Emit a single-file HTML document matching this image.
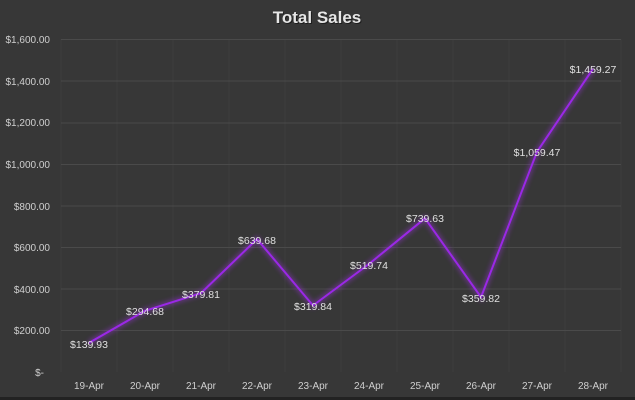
<!DOCTYPE html>
<html><head><meta charset="utf-8"><style>
html,body{margin:0;padding:0;background:#373737;}
svg{display:block;font-family:"Liberation Sans",sans-serif;}
</style></head><body>
<svg width="635" height="400" viewBox="0 0 635 400" xmlns="http://www.w3.org/2000/svg">
<rect width="635" height="400" fill="#373737"/>
<defs><filter id="g" x="-20%" y="-20%" width="140%" height="140%"><feGaussianBlur stdDeviation="2.5"/></filter></defs>
<text x="317" y="23" text-anchor="middle" font-size="17" font-weight="bold" fill="#111" opacity="0.7" transform="translate(1,1)">Total Sales</text>
<text x="317" y="23" text-anchor="middle" font-size="17" font-weight="bold" fill="#e6e6e6">Total Sales</text>
<g stroke="#3e3e3e" stroke-width="1">
<line x1="61" y1="39.5" x2="61" y2="372"/><line x1="117" y1="39.5" x2="117" y2="372"/><line x1="173" y1="39.5" x2="173" y2="372"/><line x1="229" y1="39.5" x2="229" y2="372"/><line x1="285" y1="39.5" x2="285" y2="372"/><line x1="341" y1="39.5" x2="341" y2="372"/><line x1="397" y1="39.5" x2="397" y2="372"/><line x1="453" y1="39.5" x2="453" y2="372"/><line x1="509" y1="39.5" x2="509" y2="372"/><line x1="565" y1="39.5" x2="565" y2="372"/><line x1="621" y1="39.5" x2="621" y2="372"/>
</g>
<g stroke="#4a4a4a" stroke-width="1">
<line x1="61" y1="39.5" x2="621" y2="39.5"/><line x1="61" y1="81" x2="621" y2="81"/><line x1="61" y1="123" x2="621" y2="123"/><line x1="61" y1="164.5" x2="621" y2="164.5"/><line x1="61" y1="206" x2="621" y2="206"/><line x1="61" y1="247.5" x2="621" y2="247.5"/><line x1="61" y1="289" x2="621" y2="289"/><line x1="61" y1="330.5" x2="621" y2="330.5"/>
</g>
<g font-size="10" fill="#cfcfcf" text-anchor="end">
<text x="50" y="43">$1,600.00</text><text x="50" y="85">$1,400.00</text><text x="50" y="126">$1,200.00</text><text x="50" y="168">$1,000.00</text><text x="50" y="210">$800.00</text><text x="50" y="251">$600.00</text><text x="50" y="293">$400.00</text><text x="50" y="334">$200.00</text><text x="44" y="376">$-</text>
</g>
<g font-size="10" fill="#cfcfcf" text-anchor="middle">
<text x="89" y="389">19-Apr</text><text x="145" y="389">20-Apr</text><text x="201" y="389">21-Apr</text><text x="257" y="389">22-Apr</text><text x="313" y="389">23-Apr</text><text x="369" y="389">24-Apr</text><text x="425" y="389">25-Apr</text><text x="481" y="389">26-Apr</text><text x="537" y="389">27-Apr</text><text x="593" y="389">28-Apr</text>
</g>
<polyline points="89,342.9 145,310.8 201,293.1 257,239.1 313,305.5 369,264 425,218.3 481,297.2 537,151.8 593,68.8" fill="none" stroke="#9b30e0" stroke-width="5" opacity="0.45" filter="url(#g)"/>
<polyline points="89,342.9 145,310.8 201,293.1 257,239.1 313,305.5 369,264 425,218.3 481,297.2 537,151.8 593,68.8" fill="none" stroke="#9a28e6" stroke-width="2" stroke-linejoin="round"/>
<g font-size="10.5" fill="#e0e0e0" text-anchor="middle">
<text x="89" y="348">$139.93</text><text x="145" y="315">$294.68</text><text x="201" y="298">$379.81</text><text x="257" y="244">$639.68</text><text x="313" y="310">$319.84</text><text x="369" y="269">$519.74</text><text x="425" y="222">$739.63</text><text x="481" y="302">$359.82</text><text x="537" y="156">$1,059.47</text><text x="593" y="73">$1,459.27</text>
</g>
<rect x="0" y="397" width="635" height="3" fill="#222"/>
</svg>
</body></html>
